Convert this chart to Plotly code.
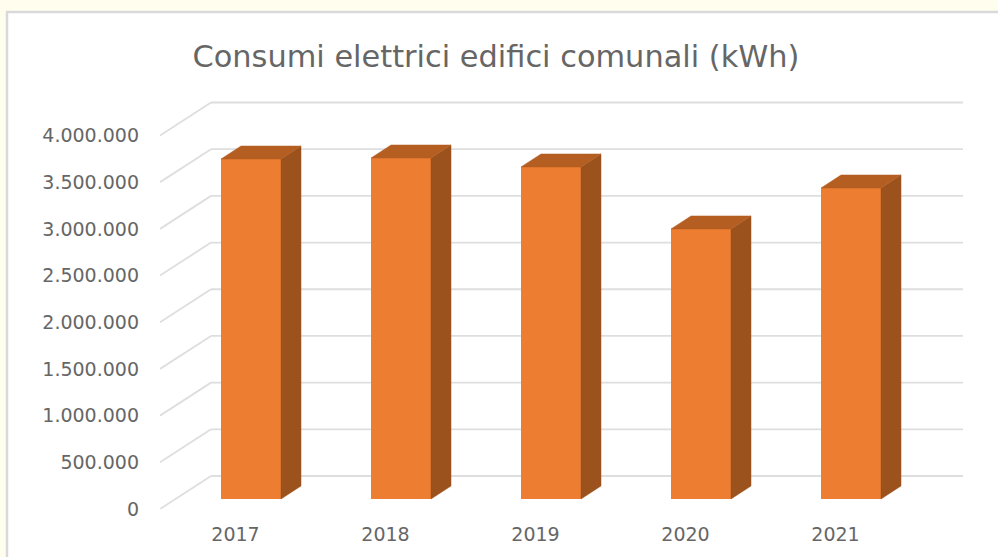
import plotly.graph_objects as go

years = ["2017", "2018", "2019", "2020", "2021"]
consumi_kwh = [3641000, 3652000, 3556000, 2892000, 3331000]
y_ticks = [0, 500000, 1000000, 1500000, 2000000, 2500000, 3000000, 3500000, 4000000]
titolo = "Consumi elettrici edifici comunali (kWh)"

W, H = 998, 557
# plot-area box in pixels
L, R, T, B = 160, 963, 90, 509
PX_X = 150.0            # pixels per category
PX_Y = 373.5 / 4000000  # pixels per kWh
X0_PX = 235.5           # pixel of first category on the front plane

def dx(px):
    return px / PX_X

def dy(px):
    return px / PX_Y

xs = list(range(len(years)))
x_min = (L - X0_PX) / PX_X
x_max = (R - X0_PX) / PX_X
y_max = (B - T) / PX_Y

WALL_DX, WALL_DY = dx(51), dy(33)
BAR_OFF_X, BAR_OFF_Y = dx(15.5), dy(10)
BAR_D_X, BAR_D_Y = dx(20), dy(13)
BAR_W = dx(60)

FRONT, SIDE, TOP = "#ED7D31", "#9C521C", "#B55E22"
GRID = "#DEDEDE"
TEXT = "#666666"
FONT = "DejaVu Sans"

shapes = [dict(type="rect", xref="paper", yref="paper", layer="below",
               x0=(7 - L) / (R - L), x1=(1010 - L) / (R - L),
               y0=(B - 570) / (B - T), y1=(B - 12) / (B - T),
               fillcolor="white", line=dict(color="#D9D9D9", width=2.5))]

# wall gridlines (behind the bars)
for t in y_ticks:
    line = dict(color=GRID, width=1.8)
    shapes.append(dict(type="line", xref="x", yref="y", layer="below",
                       x0=x_min, y0=t, x1=x_min + WALL_DX, y1=t + WALL_DY, line=line))
    shapes.append(dict(type="line", xref="x", yref="y", layer="below",
                       x0=x_min + WALL_DX, y0=t + WALL_DY, x1=x_max, y1=t + WALL_DY, line=line))

fig = go.Figure()

# front faces
fig.add_trace(go.Bar(
    x=[x + BAR_OFF_X for x in xs], y=consumi_kwh, base=BAR_OFF_Y, width=BAR_W,
    marker=dict(color=FRONT, line=dict(width=0)), showlegend=False))

# 3D depth faces of bars
for x, v in zip(xs, consumi_kwh):
    xl = x + BAR_OFF_X - BAR_W / 2
    xr = x + BAR_OFF_X + BAR_W / 2
    base = BAR_OFF_Y
    top = BAR_OFF_Y + v
    fig.add_trace(go.Scatter(
        x=[xr, xr + BAR_D_X, xr + BAR_D_X, xr, xr],
        y=[base, base + BAR_D_Y, top + BAR_D_Y, top, base],
        mode="lines", fill="toself", fillcolor=SIDE, line=dict(color=SIDE, width=0.5),
        hoverinfo="skip", showlegend=False))
    fig.add_trace(go.Scatter(
        x=[xl, xl + BAR_D_X, xr + BAR_D_X, xr, xl],
        y=[top, top + BAR_D_Y, top + BAR_D_Y, top, top],
        mode="lines", fill="toself", fillcolor=TOP, line=dict(color=TOP, width=0.5),
        hoverinfo="skip", showlegend=False))

fig.update_layout(
    width=W, height=H,
    margin=dict(l=L, r=W - R, t=T, b=H - B),
    paper_bgcolor="#FFFEEE",
    plot_bgcolor="rgba(0,0,0,0)",
    separators=",.",
    showlegend=False,
    title=dict(text=titolo, x=496 / W, y=1 - 56 / H, xanchor="center", yanchor="middle",
               font=dict(family=FONT, size=30.4, color=TEXT)),
    xaxis=dict(range=[x_min, x_max], tickmode="array", tickvals=xs, ticktext=years,
               showgrid=False, zeroline=False, showline=False, ticks="",
               ticklabelstandoff=12, tickfont=dict(family=FONT, size=19, color=TEXT)),
    yaxis=dict(range=[0, y_max], tickmode="array", tickvals=y_ticks, tickformat=",d",
               showgrid=False, zeroline=False, showline=False, ticks="",
               ticklabelstandoff=20, tickfont=dict(family=FONT, size=19, color=TEXT)),
    shapes=shapes,
)

fig.write_html("out.html", config={"displayModeBar": False},
               post_script="document.body.style.margin='0';document.documentElement.style.overflow='hidden';")
